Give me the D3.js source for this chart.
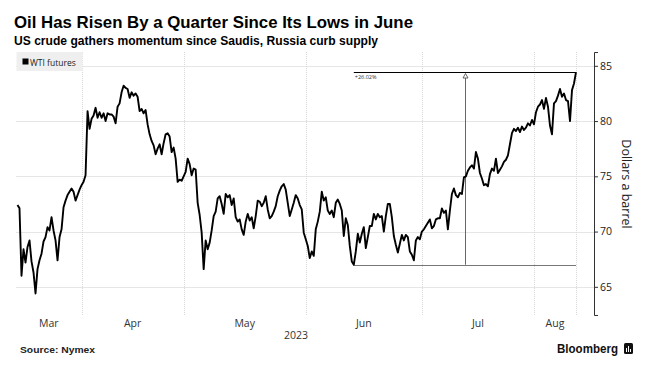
<!DOCTYPE html>
<html>
<head>
<meta charset="utf-8">
<script src="https://cdn.jsdelivr.net/npm/d3@7"></script>
<style>
  body { margin: 0; background: #fff; }
  svg { display: block; }
  text { font-family: "Open Sans", "Noto Sans", sans-serif; }
  .head { font-family: "Liberation Sans", Arial, sans-serif; font-weight: 700; }
</style>
</head>
<body>
<svg id="chart" width="646" height="365"></svg>
<script>
// WTI futures (one value per step, grouped by month)
const months = ["Mar", "Apr", "May", "Jun", "Jul", "Aug"];
const yearLabel = "2023";

const marPrices = [72.4, 72.1, 66.0, 68.4, 67.2, 68.6, 69.2, 67.3, 66.3, 64.4,
  66.6, 67.4, 68.0, 69.1, 69.5, 70.4, 70.1, 71.3, 70.1, 69.2,
  67.4, 69.5, 70.2, 72.2, 72.8, 73.3, 73.6, 73.9, 73.6, 72.8,
  73.3, 73.8];
const aprPrices = [74.2, 74.5, 75.1, 80.9, 79.3, 80.2, 80.5, 81.2, 80.3, 80.8,
  80.3, 80.7, 80.0, 80.7, 80.6, 80.6, 80.4, 79.8, 81.3, 81.6,
  82.6, 83.2, 83.0, 82.9, 82.1, 82.6, 82.3, 82.5, 82.2, 80.9,
  81.1, 80.7, 81.0, 79.7, 78.8, 78.2, 77.8, 77.0, 77.5, 77.9,
  77.0, 78.0, 78.8, 78.9, 78.6, 77.2, 77.6, 76.6, 74.5, 74.7,
  74.6];
const mayPrices = [75.0, 75.4, 76.6, 76.1, 75.1, 75.7, 75.6, 72.6, 71.5, 69.9,
  66.6, 69.2, 68.4, 69.0, 70.1, 71.4, 71.8, 73.0, 73.2, 72.5,
  71.6, 73.4, 73.1, 73.3, 72.4, 73.0, 71.3, 70.9, 71.1, 70.2,
  69.7, 70.9, 71.6, 71.0, 71.3, 70.3, 71.4, 72.8, 72.7, 72.3,
  72.6, 73.2, 72.0, 71.2, 71.4, 71.8, 72.3, 73.2, 73.7, 74.1,
  74.3, 73.8, 72.6, 71.4, 72.0, 72.6, 73.3, 73.0, 72.4, 72.0,
  69.9];
const junPrices = [69.3, 68.7, 67.6, 68.2, 67.8, 70.2, 70.9, 71.8, 73.6, 72.8,
  73.1, 71.9, 71.6, 71.9, 71.3, 72.6, 72.9, 72.5, 71.9, 69.6,
  71.2, 70.6, 68.7, 67.3, 67.0, 68.2, 69.8, 69.0, 69.8, 70.4,
  68.5, 69.5, 70.5, 70.5, 71.6, 71.1, 71.6, 71.3, 71.4, 70.0,
  71.4, 72.5, 72.5, 71.3, 69.6, 68.8, 68.1, 68.9, 69.7, 69.2,
  69.7, 69.5, 68.2, 67.9, 67.4, 69.2, 69.5, 69.3];
const julPrices = [70.0, 70.2, 70.5, 70.8, 71.1, 70.3, 70.5, 71.1, 71.2, 71.2,
  72.1, 71.7, 71.9, 70.2, 71.9, 73.4, 73.9, 73.3, 73.1, 73.5,
  73.4, 74.9, 75.0, 75.5, 75.8, 76.0, 75.7, 77.2, 76.6, 75.3,
  74.8, 74.2, 74.3, 74.1, 75.2, 75.7, 75.5, 76.6, 75.3, 75.6,
  75.9, 76.3, 76.5, 76.9, 77.9, 78.9, 79.3, 79.1, 79.4, 79.0,
  79.5, 79.2, 79.4, 79.8, 79.6, 80.1];
const augPrices = [79.7, 80.8, 81.3, 81.5, 81.9, 81.1, 82.1, 81.3, 79.6, 78.8,
  81.6, 81.8, 82.3, 82.9, 82.2, 82.5, 81.9, 81.8, 80.0, 82.8,
  83.4, 84.435];

const yTicks = [65, 70, 75, 80, 85];

const title = "Oil Has Risen By a Quarter Since Its Lows in June";
const subtitle = "US crude gathers momentum since Saudis, Russia curb supply";
const source = "Source: Nymex";
const legendLabel = "WTI futures";
const yLabel = "Dollars a barrel";

const svg = d3.select("#chart");
const plotLeft = 16, plotRight = 594, plotTop = 52, plotBottom = 315;

const monthly = [marPrices, aprPrices, mayPrices, junPrices, julPrices, augPrices];
const prices = monthly.flat();
const starts = [];
let acc = 0;
monthly.forEach(m => { starts.push(acc); acc += m.length; });
const last = prices.length - 1;

const x = d3.scaleLinear().domain([0, last]).range([17.5, 576]);
const y = d3.scaleLinear().domain([62.45, 86.25]).range([plotBottom, plotTop]);

// grid
svg.append("g").selectAll("line").data(yTicks).join("line")
  .attr("x1", plotLeft).attr("x2", plotRight)
  .attr("y1", d => Math.round(y(d)) + 0.5).attr("y2", d => Math.round(y(d)) + 0.5)
  .attr("stroke", "#e6e6e6").attr("stroke-width", 1);

const vGrid = starts.slice(1).concat([last]);
svg.append("g").selectAll("line").data(vGrid).join("line")
  .attr("x1", d => Math.round(x(d)) + 0.5).attr("x2", d => Math.round(x(d)) + 0.5)
  .attr("y1", plotTop).attr("y2", plotBottom)
  .attr("stroke", "#d8d8d8").attr("stroke-dasharray", "1,1");

// legend
const lg = svg.append("g");
lg.append("rect").attr("x", 16.5).attr("y", 52).attr("width", 66).attr("height", 19).attr("fill", "#efefef");
lg.append("rect").attr("x", 22.5).attr("y", 58.5).attr("width", 6).attr("height", 6).attr("fill", "#000");
lg.append("text").attr("x", 30).attr("y", 65.5).attr("font-size", 8.5).attr("fill", "#222").text(legendLabel);

// annotation: rise since the June low
const junFrom = starts[3];
const lowIdx = junFrom + d3.minIndex(prices.slice(junFrom));
const lowVal = prices[lowIdx], highVal = prices[last];
const midX = Math.round((x(lowIdx) + x(last)) / 2) + 0.5;
const ann = svg.append("g");
ann.append("line").attr("x1", x(lowIdx)).attr("x2", x(last))
  .attr("y1", Math.round(y(lowVal)) + 0.5).attr("y2", Math.round(y(lowVal)) + 0.5)
  .attr("stroke", "#777").attr("stroke-width", 1);
ann.append("line").attr("x1", midX).attr("x2", midX)
  .attr("y1", y(lowVal)).attr("y2", y(highVal) + 5)
  .attr("stroke", "#666").attr("stroke-width", 1);
const ty = Math.round(y(highVal)) + 0.5;
ann.append("line").attr("x1", x(lowIdx)).attr("x2", x(last))
  .attr("y1", ty).attr("y2", ty)
  .attr("stroke", "#000").attr("stroke-width", 1);
ann.append("path")
  .attr("d", `M${midX},${ty + 1}L${midX + 2.5},${ty + 5.5}L${midX - 2.5},${ty + 5.5}Z`)
  .attr("fill", "#fff").attr("stroke", "#444").attr("stroke-width", 0.8);
ann.append("text").attr("x", x(lowIdx) + 1).attr("y", ty + 6)
  .attr("font-size", 5.5).attr("fill", "#333")
  .text(d3.format("+.2%")(highVal / lowVal - 1));

// price line
const line = d3.line().x((d, i) => x(i)).y(d => y(d));
svg.append("path").datum(prices)
  .attr("d", line)
  .attr("fill", "none").attr("stroke", "#000")
  .attr("stroke-width", 1.9).attr("stroke-linejoin", "round");

// right axis
const axis = svg.append("g").attr("transform", `translate(${plotRight},0)`)
  .call(d3.axisRight(y).tickValues(yTicks).tickSize(4).tickSizeOuter(4).tickPadding(2));
axis.select(".domain").attr("stroke", "#333");
axis.selectAll(".tick line").attr("stroke", "#333");
axis.selectAll(".tick text").attr("font-size", 10.5).attr("fill", "#222")
  .attr("font-family", "\"Open Sans\", sans-serif");

svg.append("text")
  .attr("transform", "translate(622,184) rotate(90)")
  .attr("text-anchor", "middle").attr("font-size", 12.5).attr("fill", "#222")
  .text(yLabel);

// month labels
const bounds = [plotLeft].concat(starts.slice(1).map(s => x(s)), [x(last)]);
svg.append("g").selectAll("text").data(months).join("text")
  .attr("x", (d, i) => (bounds[i] + bounds[i + 1]) / 2)
  .attr("y", 327)
  .attr("text-anchor", "middle").attr("font-size", 10.5).attr("fill", "#333")
  .text(d => d);
svg.append("text").attr("x", (plotLeft + x(last)) / 2).attr("y", 339)
  .attr("text-anchor", "middle").attr("font-size", 10.5).attr("fill", "#333")
  .text(yearLabel);

// titles and footer
svg.append("text").attr("class", "head").attr("x", 14).attr("y", 28)
  .attr("font-size", 16.5).attr("fill", "#000")
  .attr("textLength", 399).attr("lengthAdjust", "spacingAndGlyphs")
  .text(title);
svg.append("text").attr("class", "head").attr("x", 14).attr("y", 45)
  .attr("font-size", 13.5).attr("fill", "#000")
  .attr("textLength", 364).attr("lengthAdjust", "spacingAndGlyphs")
  .text(subtitle);
svg.append("text").attr("class", "head").attr("x", 20).attr("y", 353)
  .attr("font-size", 9.5).attr("fill", "#222")
  .attr("textLength", 75).attr("lengthAdjust", "spacingAndGlyphs")
  .text(source);
svg.append("text").attr("class", "head").attr("x", 557).attr("y", 353)
  .attr("font-size", 12.5).attr("fill", "#111")
  .attr("textLength", 61).attr("lengthAdjust", "spacingAndGlyphs")
  .text("Bloomberg");

// little terminal logo
const logo = svg.append("g").attr("transform", "translate(624,343)");
logo.append("rect").attr("width", 9).attr("height", 11).attr("rx", 1.5).attr("fill", "#111");
logo.selectAll("line").data([2.5, 4.5, 6.5]).join("line")
  .attr("x1", d => d).attr("x2", d => d)
  .attr("y1", (d, i) => [5, 3, 6][i]).attr("y2", 9)
  .attr("stroke", "#fff").attr("stroke-width", 1);
</script>
</body>
</html>
